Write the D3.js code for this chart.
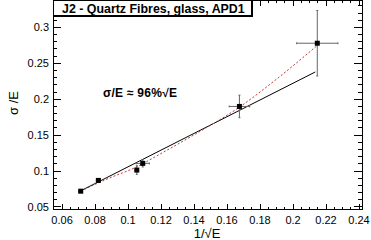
<!DOCTYPE html>
<html><head><meta charset="utf-8">
<script src="https://cdn.jsdelivr.net/npm/d3@7"></script>
<style>body{margin:0;background:#fff}svg{display:block}text{font-family:"Liberation Sans",Arial,sans-serif}</style>
</head><body>
<svg id="c" width="371" height="240"></svg>
<script>
// data
const ptX   = [0.0713, 0.0820, 0.1053, 0.1089, 0.1675, 0.2147];
const ptY   = [0.0720, 0.0870, 0.1014, 0.1107, 0.1900, 0.2780];
const errX  = [0.0010, 0.0012, 0.0010, 0.0040, 0.0062, 0.0125];
const errY  = [0.0015, 0.0020, 0.0060, 0.0050, 0.0157, 0.0456];
const fitX  = [0.0700, 0.2135];
const fitY  = [0.0710, 0.2380];
const redX  = [0.0713, 0.08, 0.09, 0.1035, 0.12, 0.14, 0.1675, 0.19, 0.2147];
const redY  = [0.072, 0.0815, 0.0915, 0.104, 0.1245, 0.1505, 0.189, 0.228, 0.275];
const xTicks = [0.06,0.08,0.1,0.12,0.14,0.16,0.18,0.2,0.22,0.24];
const yTicks = [0.05,0.1,0.15,0.2,0.25,0.3];
const title = "J2 - Quartz Fibres, glass, APD1";

const svg = d3.select("#c");
const L=53,R=362,T=0.5,B=209;
const x = d3.scaleLinear().domain([0.0545,0.2418]).range([L,R]);
const y = d3.scaleLinear().domain([0.0472,0.3375]).range([B,T]);

const xMinor = d3.range(0.055,0.2405,0.005);
const yMinor = d3.range(0.05,0.3355,0.01);

function fmt(v){return String(+v.toFixed(3));}

// ticks
const g = svg.append("g").attr("stroke","#000").attr("stroke-width",1).attr("shape-rendering","crispEdges");
xMinor.forEach(v=>{
  const isMaj = xTicks.some(t=>Math.abs(t-v)<1e-6);
  const len = isMaj?5:2.5;
  g.append("line").attr("x1",x(v)).attr("x2",x(v)).attr("y1",B).attr("y2",B-len);
  g.append("line").attr("x1",x(v)).attr("x2",x(v)).attr("y1",T).attr("y2",T+len);
});
yMinor.forEach(v=>{
  const isMaj = yTicks.some(t=>Math.abs(t-v)<1e-6);
  const len = isMaj?8:4;
  g.append("line").attr("y1",y(v)).attr("y2",y(v)).attr("x1",L).attr("x2",L+len);
  g.append("line").attr("y1",y(v)).attr("y2",y(v)).attr("x1",R).attr("x2",R-len);
});
svg.append("rect").attr("x",L).attr("y",T).attr("width",R-L).attr("height",B-T)
  .attr("fill","none").attr("stroke","#000").attr("shape-rendering","crispEdges");

// tick labels
svg.append("g").selectAll("text").data(xTicks).join("text")
  .attr("x",d=>x(d)).attr("y",224).attr("text-anchor","middle").attr("font-size",11).text(fmt);
svg.append("g").selectAll("text").data(yTicks).join("text")
  .attr("x",49).attr("y",d=>y(d)+4).attr("text-anchor","end").attr("font-size",11).text(fmt);

// axis titles
svg.append("text").attr("x",207).attr("y",238).attr("text-anchor","middle").attr("font-size",13)
  .text("1/\u221AE");
svg.append("text").attr("transform","translate(18,103) rotate(-90)").attr("text-anchor","middle")
  .attr("font-size",13).text("\u03C3 /E");

// fit line
svg.append("path").datum(fitX.map((v,i)=>[v,fitY[i]]))
  .attr("d",d3.line().x(d=>x(d[0])).y(d=>y(d[1])))
  .attr("fill","none").attr("stroke","#000").attr("stroke-width",1);
// red dotted curve
svg.append("path").datum(redX.map((v,i)=>[v,redY[i]]))
  .attr("d",d3.line().curve(d3.curveMonotoneX).x(d=>x(d[0])).y(d=>y(d[1])))
  .attr("fill","none").attr("stroke","#d03030").attr("stroke-width",1).attr("stroke-dasharray","2,2");

// error bars + markers
const eg = svg.append("g").attr("stroke","#666").attr("stroke-width",1);
ptX.forEach((v,i)=>{
  const cx=x(v), cy=y(ptY[i]);
  const x0=x(v-errX[i]), x1=x(v+errX[i]), y0=y(ptY[i]-errY[i]), y1=y(ptY[i]+errY[i]);
  eg.append("line").attr("x1",x0).attr("x2",x1).attr("y1",cy).attr("y2",cy);
  eg.append("line").attr("x1",cx).attr("x2",cx).attr("y1",y0).attr("y2",y1);
  eg.append("line").attr("x1",x0).attr("x2",x0).attr("y1",cy-1).attr("y2",cy+1);
  eg.append("line").attr("x1",x1).attr("x2",x1).attr("y1",cy-1).attr("y2",cy+1);
  eg.append("line").attr("x1",cx-1).attr("x2",cx+1).attr("y1",y0).attr("y2",y0);
  eg.append("line").attr("x1",cx-1).attr("x2",cx+1).attr("y1",y1).attr("y2",y1);
});
svg.append("g").selectAll("rect").data(ptX).join("rect")
  .attr("x",(d)=>x(d)-2.5).attr("y",(d,i)=>y(ptY[i])-2.5).attr("width",5).attr("height",5).attr("fill","#000");

// annotation
svg.append("text").attr("x",103).attr("y",97).attr("font-size",12).attr("font-weight","bold")
  .attr("textLength",74).text("\u03C3/E \u2248 96%\u221AE");

// title box
svg.append("rect").attr("x",54).attr("y",1).attr("width",199).attr("height",16).attr("fill","#000");
svg.append("rect").attr("x",53).attr("y",0).attr("width",198).attr("height",15).attr("fill","#fff")
  .attr("stroke","#000").attr("stroke-width",1).attr("shape-rendering","crispEdges");
svg.append("text").attr("x",62).attr("y",13).attr("font-size",12.4).attr("font-weight","bold").text(title);
</script>
</body></html>
